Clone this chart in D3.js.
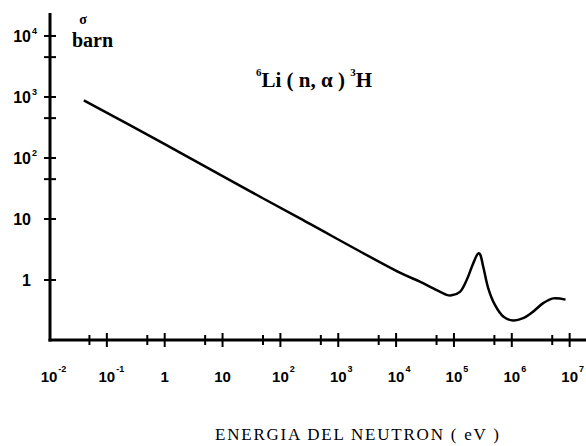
<!DOCTYPE html>
<html>
<head>
<meta charset="utf-8">
<script src="https://cdn.jsdelivr.net/npm/d3@7"></script>
<style>
body { margin: 0; background: #fff; }
</style>
</head>
<body>
<script>
// neutron energy (eV) and 6Li(n,a) cross section (barn)
const energy = [0.040, 1.0, 18.5, 218, 11600, 25800, 43900, 74700, 91000, 127000,
    166000, 215000, 263000, 281000, 321000, 392000, 511000, 711000, 1.06e6,
    1.57e6, 2.34e6, 3.49e6, 5.2e6, 8.5e6];
const sigma = [879, 169, 36.5, 10.2, 1.32, 0.94, 0.73, 0.57, 0.56, 0.64,
    1.0, 1.87, 2.73, 2.66, 1.65, 0.73, 0.39, 0.252, 0.217,
    0.237, 0.303, 0.417, 0.50, 0.477];

// axis ticks and labels
const xMajorTicks = [0.1, 1, 10, 100, 1e3, 1e4, 1e5, 1e6, 1e7];
const xMinorTicks = [0.05, 0.5, 5, 50, 500, 5e3, 5e4, 5e5, 5e6];
const xLabelValues = [0.01, 0.1, 1, 10, 100, 1e3, 1e4, 1e5, 1e6, 1e7];
const xLabelBase = ["10", "10", "1", "10", "10", "10", "10", "10", "10", "10"];
const xLabelExp = ["-2", "-1", "", "", "2", "3", "4", "5", "6", "7"];

const yMajorTicks = [1, 10, 100, 1e3, 1e4];
const yMinorTicks = [45, 450, 4500];
const yLabelBase = ["1", "10", "10", "10", "10"];
const yLabelExp = ["", "", "2", "3", "4"];

const width = 586, height = 446;

const svg = d3.select("body").append("svg")
    .attr("width", width)
    .attr("height", height);

//X axis (log energy)
const x = d3.scaleLog().domain([0.01, Math.pow(10, 7.3)]).range([49, 587]);
//Y axis (log sigma)
const y = d3.scaleLog().domain([0.1, Math.pow(10, 4.36)]).range([341, 14]);

const axisY = 340;
const axisX = 50;

// ----- axis lines -----
svg.append("line")
    .attr("x1", axisX).attr("x2", axisX)
    .attr("y1", 13).attr("y2", axisY + 1.5)
    .attr("stroke", "#000").attr("stroke-width", 3);

svg.append("line")
    .attr("x1", axisX - 1.5).attr("x2", width)
    .attr("y1", axisY).attr("y2", axisY)
    .attr("stroke", "#000").attr("stroke-width", 3);

// ----- ticks -----
svg.selectAll(".xMajor").data(xMajorTicks).enter().append("line")
    .attr("class", "xMajor")
    .attr("x1", d => x(d)).attr("x2", d => x(d))
    .attr("y1", axisY - 7).attr("y2", axisY + 7)
    .attr("stroke", "#000").attr("stroke-width", 2);

svg.selectAll(".xMinor").data(xMinorTicks).enter().append("line")
    .attr("class", "xMinor")
    .attr("x1", d => x(d)).attr("x2", d => x(d))
    .attr("y1", axisY - 5).attr("y2", axisY + 5)
    .attr("stroke", "#000").attr("stroke-width", 2);

svg.selectAll(".yMajor").data(yMajorTicks).enter().append("line")
    .attr("class", "yMajor")
    .attr("x1", axisX - 6).attr("x2", axisX + 6)
    .attr("y1", d => y(d)).attr("y2", d => y(d))
    .attr("stroke", "#000").attr("stroke-width", 2);

svg.selectAll(".yMinor").data(yMinorTicks).enter().append("line")
    .attr("class", "yMinor")
    .attr("x1", axisX - 6).attr("x2", axisX + 6)
    .attr("y1", d => y(d)).attr("y2", d => y(d))
    .attr("stroke", "#000").attr("stroke-width", 2);

// ----- tick labels -----
const tickFont = "'Liberation Sans', Arial, sans-serif";

xLabelValues.forEach((v, i) => {
    const base = svg.append("text")
        .attr("x", x(v))
        .attr("y", 382)
        .attr("text-anchor", "middle")
        .style("font-family", tickFont)
        .style("font-weight", "bold")
        .style("font-size", "15px")
        .text(xLabelBase[i]);
    if (xLabelExp[i]) {
        const w = base.node().getComputedTextLength();
        svg.append("text")
            .attr("x", x(v) + w / 2 + 1)
            .attr("y", 372)
            .style("font-family", tickFont)
            .style("font-weight", "bold")
            .style("font-size", "9px")
            .text(xLabelExp[i]);
    }
});

yMajorTicks.forEach((v, i) => {
    svg.append("text")
        .attr("x", 31)
        .attr("y", y(v))
        .attr("dy", "0.36em")
        .attr("text-anchor", "end")
        .style("font-family", tickFont)
        .style("font-weight", "bold")
        .style("font-size", "16px")
        .text(yLabelBase[i]);
    if (yLabelExp[i]) {
        svg.append("text")
            .attr("x", 32)
            .attr("y", y(v) - 2)
            .style("font-family", tickFont)
            .style("font-weight", "bold")
            .style("font-size", "9px")
            .text(yLabelExp[i]);
    }
});

// ----- curve -----
const pts = energy.map((e, i) => [e, sigma[i]]);
const line = d3.line()
    .x(d => x(d[0]))
    .y(d => y(d[1]))
    .curve(d3.curveCatmullRom.alpha(0.5));

svg.append("path")
    .datum(pts)
    .attr("d", line)
    .attr("fill", "none")
    .attr("stroke", "#000")
    .attr("stroke-width", 2.5)
    .attr("stroke-linejoin", "round");

// ----- labels -----
const serif = "'Liberation Serif', 'Times New Roman', serif";

svg.append("text")
    .attr("x", 83).attr("y", 24)
    .attr("text-anchor", "middle")
    .style("font-family", serif)
    .style("font-weight", "bold")
    .style("font-size", "14px")
    .text("σ");

svg.append("text")
    .attr("x", 72).attr("y", 47)
    .style("font-family", serif)
    .style("font-weight", "bold")
    .style("font-size", "20px")
    .text("barn");

const title = svg.append("text")
    .attr("x", 256).attr("y", 87)
    .style("font-family", serif)
    .style("font-weight", "bold")
    .style("font-size", "21px");
title.append("tspan").attr("dy", -11).style("font-size", "11px").text("6");
title.append("tspan").attr("dy", 11).text("Li ( n, α ) ");
title.append("tspan").attr("dy", -11).style("font-size", "11px").text("3");
title.append("tspan").attr("dy", 11).text("H");

svg.append("text")
    .attr("x", 215).attr("y", 440)
    .attr("textLength", 284)
    .attr("lengthAdjust", "spacing")
    .style("font-family", serif)
    .style("font-size", "17px")
    .text("ENERGIA DEL NEUTRON ( eV )");
</script>
</body>
</html>
